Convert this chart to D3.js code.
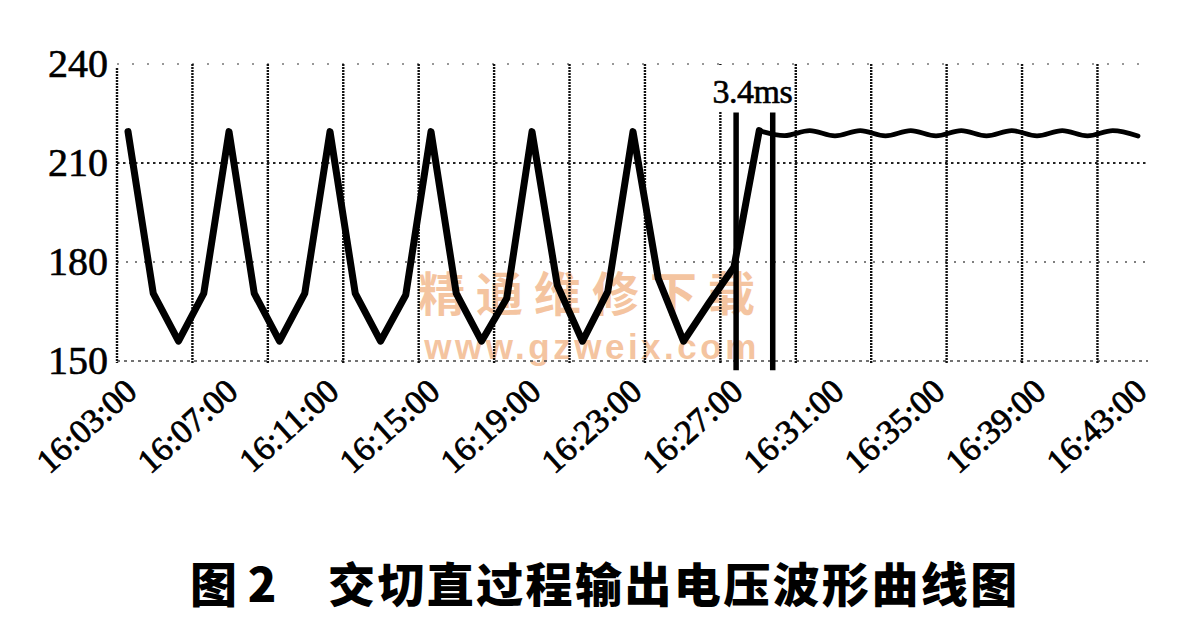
<!DOCTYPE html>
<html>
<head>
<meta charset="utf-8">
<script src="https://cdn.jsdelivr.net/npm/d3@7/dist/d3.min.js"></script>
<style>
  html, body { margin: 0; padding: 0; background: #fff; }
  svg { display: block; }
</style>
</head>
<body>
<svg id="chart" width="1182" height="630"></svg>
<script>
// ---------------- data ----------------
const times = ["16:03","16:04","16:05","16:06","16:07","16:08","16:09","16:10",
               "16:11","16:12","16:13","16:14","16:15","16:16","16:17","16:18",
               "16:19","16:20","16:21","16:22","16:23","16:24","16:25","16:26",
               "16:27","16:28","16:29","16:30","16:31","16:32","16:33","16:34",
               "16:35","16:36","16:37","16:38","16:39","16:40","16:41","16:42","16:43"];
const voltage = [219.5,170.5,156,170.5, 219.5,170.5,156,170.5,
                 219.5,170.5,156,170,   219.5,170.5,156,169,
                 219.5,173,156,171,     219.5,175,156,167.5,
                 178.5,219.8,218.3,219.8,218.2,219.8,218.2,219.8,
                 218.2,219.8,218.2,219.8,218.2,219.8,218.2,219.8,218.2];
const steadyStart = "16:28";          // from here the output is the steady DC level
const yTicks = [150, 180, 210, 240];
const xTickLabels = ["16:03:00","16:07:00","16:11:00","16:15:00","16:19:00","16:23:00",
                     "16:27:00","16:31:00","16:35:00","16:39:00","16:43:00"];
const markerTimes = ["16:27:05", "16:28:32"];
const markerLabel = "3.4ms";
const caption1 = "图 2";
const caption2 = "交切直过程输出电压波形曲线图";
const watermark1 = "精通维修下载";
const watermark2 = "www.gzweix.com";

// ---------------- helpers ----------------
const toMin = s => { const p = s.split(":").map(Number); return (p[0]-16)*60 + p[1] + (p[2]||0)/60; };
const data = times.map((t,i) => ({t: toMin(t), v: voltage[i]}));

const svg = d3.select("#chart");
const W = 1182, H = 630;
const plot = {left: 117, right: 1148, top: 64, bottom: 361};

const x = d3.scaleLinear().domain([2.564, 43.396]).range([plot.left, plot.right]);
const y = d3.scaleLinear().domain([150, 240]).range([plot.bottom, plot.top]);
// fixed oscilloscope-style vertical grid divisions
const gridDiv = d3.scaleLinear().domain([0, 13.67]).range([plot.left, plot.right]);

svg.append("rect").attr("width", W).attr("height", H).attr("fill", "#fff");

// watermark (behind marks)
const wm = svg.append("g").attr("fill", "#f4c4a0");
wm.append("text").attr("x", 592).attr("y", 311).attr("text-anchor", "middle")
  .attr("font-family", "Noto Sans CJK SC").attr("font-size", 47).attr("font-weight", 700)
  .attr("letter-spacing", 11).text(watermark1);
wm.append("text").attr("x", 592).attr("y", 359).attr("text-anchor", "middle")
  .attr("font-family", "Liberation Sans").attr("font-size", 35).attr("font-weight", 700)
  .attr("letter-spacing", 3.5).text(watermark2);

// horizontal grid lines
const hStyle = {150: ["3,4", 1.6, "#444"], 180: ["2,7", 1.6, "#555"], 210: ["2.5,3.5", 2, "#222"], 240: ["2,13", 1.6, "#777"]};
svg.append("g").selectAll("line").data(yTicks).join("line")
  .attr("x1", plot.left).attr("x2", plot.right)
  .attr("y1", d => y(d)).attr("y2", d => y(d))
  .attr("stroke", d => hStyle[d][2]).attr("stroke-width", d => hStyle[d][1])
  .attr("stroke-dasharray", d => hStyle[d][0]);

// vertical grid lines
svg.append("g").selectAll("line").data(d3.range(1, 14)).join("line")
  .attr("x1", d => gridDiv(d)).attr("x2", d => gridDiv(d))
  .attr("y1", plot.top).attr("y2", plot.bottom + 2)
  .attr("stroke", "#111").attr("stroke-width", 2.4)
  .attr("stroke-dasharray", "2,1");

// left axis line
svg.append("line").attr("x1", plot.left).attr("x2", plot.left)
  .attr("y1", plot.top + 4).attr("y2", plot.bottom + 2)
  .attr("stroke", "#111").attr("stroke-width", 2.4).attr("stroke-dasharray", "2,1");

// y tick labels
svg.append("g").selectAll("text").data(yTicks).join("text")
  .attr("x", 108).attr("y", d => y(d) + 13)
  .attr("text-anchor", "end")
  .attr("font-family", "Liberation Serif").attr("font-size", 40)
  .attr("fill", "#000").attr("stroke", "#000").attr("stroke-width", 0.6)
  .text(d => d);

// x tick labels (rotated)
svg.append("g").selectAll("text").data(xTickLabels).join("text")
  .attr("transform", d => `translate(${x(toMin(d)) + 11},${plot.bottom + 33}) rotate(-42)`)
  .attr("text-anchor", "end")
  .attr("font-family", "Liberation Serif").attr("font-size", 34)
  .attr("fill", "#000").attr("stroke", "#000").attr("stroke-width", 0.8)
  .text(d => d);

// waveform
const iSteady = times.indexOf(steadyStart);
const lineLin = d3.line().x(d => x(d.t)).y(d => y(d.v));
const lineSmooth = d3.line().x(d => x(d.t)).y(d => y(d.v)).curve(d3.curveMonotoneX);
svg.append("path").datum(data.slice(0, iSteady + 1))
  .attr("d", lineLin).attr("fill", "none").attr("stroke", "#000")
  .attr("stroke-width", 7).attr("stroke-linejoin", "round").attr("stroke-linecap", "round");
svg.append("path").datum(data.slice(iSteady))
  .attr("d", lineSmooth).attr("fill", "none").attr("stroke", "#000")
  .attr("stroke-width", 4.8).attr("stroke-linejoin", "round").attr("stroke-linecap", "round");

// 3.4ms label with white backing
const mx = markerTimes.map(toMin);
const midX = (x(mx[0]) + x(mx[1])) / 2;
svg.append("rect").attr("x", midX - 48).attr("y", plot.top + 1).attr("width", 86).attr("height", y(225.6) - plot.top - 1)
  .attr("fill", "#fff");
svg.append("text").attr("x", midX - 2).attr("y", y(228.2))
  .attr("text-anchor", "middle")
  .attr("font-family", "Liberation Serif").attr("font-size", 34)
  .attr("letter-spacing", -0.5)
  .attr("fill", "#000").attr("stroke", "#000").attr("stroke-width", 0.6)
  .text(markerLabel);

// marker lines
svg.append("g").selectAll("line").data(mx).join("line")
  .attr("x1", d => x(d)).attr("x2", d => x(d))
  .attr("y1", y(225.3)).attr("y2", y(147.2))
  .attr("stroke", "#000").attr("stroke-width", 5.5);

// caption
svg.append("text").attr("x", 190).attr("y", 602)
  .attr("font-family", "Noto Sans CJK SC").attr("font-size", 47).attr("font-weight", 900)
  .attr("fill", "#000").text(caption1);
svg.append("text").attr("x", 328).attr("y", 602)
  .attr("font-family", "Noto Sans CJK SC").attr("font-size", 47).attr("font-weight", 900)
  .attr("letter-spacing", 2.4)
  .attr("fill", "#000").text(caption2);
</script>
</body>
</html>
